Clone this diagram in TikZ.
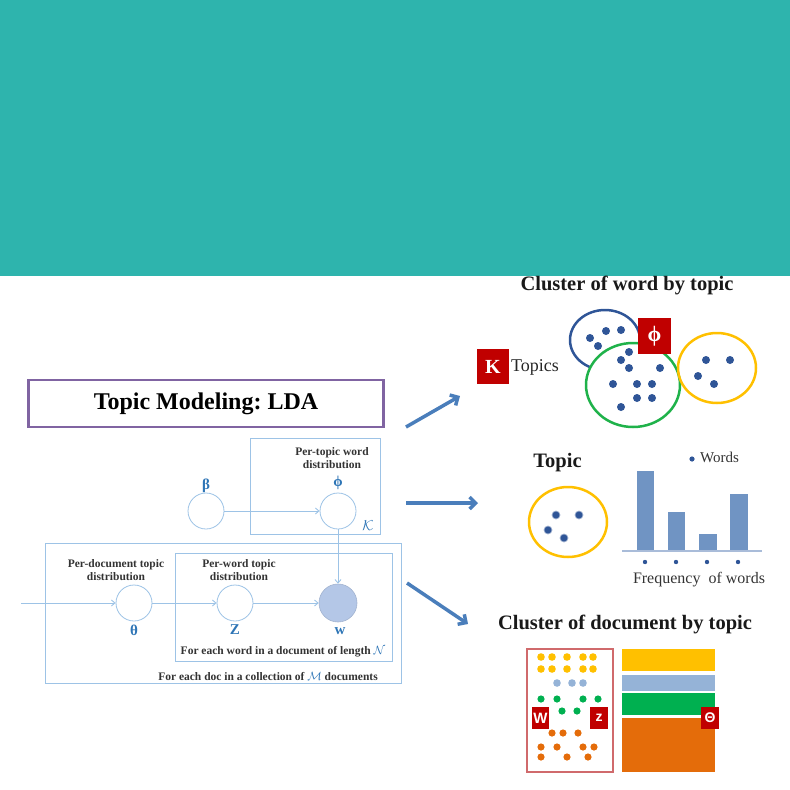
\documentclass[tikz,border=0pt]{standalone}
\usepackage{fontspec}
\setmainfont{Liberation Serif}
\newfontfamily\sansf{Liberation Sans}
\usetikzlibrary{arrows.meta}
\frenchspacing
\definecolor{tealbg}{HTML}{2EB4AD}
\definecolor{purp}{HTML}{8064A2}
\definecolor{plateblue}{HTML}{9DC3E6}
\definecolor{labblue}{HTML}{2E75B6}
\definecolor{txtgray}{HTML}{333333}
\definecolor{bigarrow}{HTML}{4A7EBB}
\definecolor{darkred}{HTML}{C00000}
\definecolor{dotblue}{HTML}{2F5597}
\definecolor{ellblue}{HTML}{2F5597}
\definecolor{ellgreen}{HTML}{1FB24A}
\definecolor{ellyellow}{HTML}{FFC000}
\definecolor{barblue}{HTML}{7094C3}
\definecolor{baseblue}{HTML}{A9BCD9}
\definecolor{wfill}{HTML}{B4C7E7}
\definecolor{docred}{HTML}{D06A6C}
\definecolor{dyellow}{HTML}{FFC000}
\definecolor{dlblue}{HTML}{95B3D7}
\definecolor{dgreen}{HTML}{00B050}
\definecolor{dorange}{HTML}{E46C0A}
\tikzset{
  plate/.style={draw=plateblue, line width=0.8pt, inner sep=0pt},
  varnode/.style={circle, draw=plateblue, line width=0.8pt, minimum size=36pt, inner sep=0pt, fill=white},
  obsnode/.style={circle, draw=wfill!90!black, line width=0.6pt, fill=wfill, minimum size=38pt, inner sep=0pt},
  smallarrow/.style={draw=plateblue, line width=0.9pt, -{Straight Barb[length=3.5pt,width=6pt]}},
  greek/.style={text=labblue, font=\bfseries\fontsize{15}{15}\selectfont, inner sep=0pt},
  smalltxt/.style={text=txtgray, font=\bfseries\fontsize{11.5}{13}\selectfont, align=center, inner sep=0pt},
  bigarr/.style={draw=bigarrow, line width=3.5pt, -{Straight Barb[length=6pt,width=12pt]}},
  headtxt/.style={text=black!90, font=\bfseries\fontsize{20.5}{22}\selectfont, inner sep=0pt},
  redbox/.style={fill=darkred, text=white, inner sep=0pt},
  bdot/.style={fill=dotblue},
}
\begin{document}
\begin{tikzpicture}[x=1pt,y=-1pt]
\useasboundingbox (0,0) rectangle (790,790);
\fill[tealbg] (0,0) rectangle (790,276);

% title
\node[draw=purp, line width=2.5pt, minimum width=355pt, minimum height=47pt, inner sep=0pt,
  font=\bfseries\fontsize{24}{26}\selectfont, text=black] (title) at (206,403.5) {Topic Modeling: LDA};

% plates
\node[plate, minimum width=130pt, minimum height=96pt] (plateK) at (315,486) {};
\node[plate, minimum width=356pt, minimum height=140pt] (plateM) at (223,613) {};
\node[plate, minimum width=217pt, minimum height=108pt] (plateN) at (283.5,607) {};

% variables
\node[varnode] (beta) at (206,511) {};
\node[varnode] (phi) at (338,511) {};
\node[varnode] (theta) at (134,603) {};
\node[varnode] (z) at (235,603) {};
\node[obsnode] (w) at (338,603) {};
\coordinate (in) at (21,603);

\draw[smallarrow] (beta) -- (phi);
\draw[smallarrow] (phi) -- (w);
\draw[smallarrow] (in) -- (theta);
\draw[smallarrow] (theta) -- (z);
\draw[smallarrow] (z) -- (w);

% greek labels
\node[greek] (lbeta) at (206,486) {β};
\node[greek] (lphi) at (338,483) {ϕ};
\node[greek] (ltheta) at (134,630) {θ};
\node[greek] (lz) at (235,630) {Z};
\node[greek] (lw) at (340,631) {w};
\node[greek] (lK) at (368,526) {$\mathcal{K}$};

\node[smalltxt] (tptw) at (332,458) {Per-topic word\\distribution};
\node[smalltxt] (tpdt) at (116,570) {Per-document topic\\distribution};
\node[smalltxt] (tpwt) at (239,570) {Per-word topic\\distribution};
\node[smalltxt] (tN) at (283,652) {For each word in a document of length {\color{labblue}$\mathcal{N}$}};
\node[smalltxt] (tM) at (268,676) {For each doc in a collection of {\color{labblue}$\mathcal{M}$} documents};

% big arrows
\coordinate (a1s) at (406,427); \coordinate (a1e) at (460,396);
\coordinate (a2s) at (406,503); \coordinate (a2e) at (478,503);
\coordinate (a3s) at (407,583); \coordinate (a3e) at (468,624);
\draw[bigarr] (a1s) -- (a1e);
\draw[bigarr] (a2s) -- (a2e);
\draw[bigarr] (a3s) -- (a3e);

% ---- cluster of word by topic
\node[headtxt] (h1) at (627,285) {Cluster of word by topic};
\node[redbox, minimum width=32pt, minimum height=35pt, font=\bfseries\fontsize{20}{20}\selectfont] (Kbox) at (493,366.5) {K};
\node[anchor=west, inner sep=0pt, font=\fontsize{18}{18}\selectfont, text=black!85] (topics) at (511,367) {Topics};

\draw[ellblue, line width=2.5pt] (605,340) ellipse [x radius=35pt, y radius=30pt];
\foreach \p in {(590,338),(598,346),(606,331),(621,330)} \fill[bdot] \p circle (4pt);
\draw[ellgreen, line width=2.5pt, fill=white] (633,385) ellipse [x radius=47pt, y radius=42pt];
\foreach \p in {(629,352),(621,360),(629,368),(660,368),(613,384),(637,384),(652,384),(637,398),(652,398),(621,407)} \fill[bdot] \p circle (4pt);
\draw[ellyellow, line width=2.5pt] (717,368) ellipse [x radius=39pt, y radius=35pt];
\foreach \p in {(706,360),(730,360),(698,376),(714,384)} \fill[bdot] \p circle (4pt);
\node[redbox, minimum width=33pt, minimum height=36pt, font=\bfseries\fontsize{22}{22}\selectfont] (phibox) at (654.5,336) {ϕ};

% ---- topic / frequency
\node[headtxt] (h2) at (557.5,463) {Topic};
\draw[ellyellow, line width=2.5pt] (568,522) ellipse [x radius=39pt, y radius=35pt];
\foreach \p in {(556,515),(579,515),(548,530),(564,538)} \draw[bdot, draw=dotblue!45, line width=0.7pt] \p circle (4pt);
\fill[barblue] (637,471) rectangle (654,551);
\fill[barblue] (668,512) rectangle (685,551);
\fill[barblue] (699,534) rectangle (717,551);
\fill[barblue] (730,494) rectangle (748,551);
\coordinate (bl) at (622,551); \coordinate (br) at (762,551);
\draw[baseblue, line width=1.2pt] (bl) -- (br);
\foreach \x in {645,676,707,738} \fill[dotblue] (\x,562) circle (2.2pt);
\fill[dotblue] (692,459) circle (2.6pt);
\node[anchor=west, inner sep=0pt, font=\fontsize{15}{15}\selectfont, text=black!80] (words) at (700,457) {Words};
\node[inner sep=0pt, font=\fontsize{16}{16}\selectfont, text=black!80] (freq) at (699,580) {Frequency\ \ of words};

% ---- cluster of document by topic
\node[headtxt] (h3) at (625,624) {Cluster of document by topic};
\draw[docred, line width=2.2pt] (527,649) rectangle (613,772);
\foreach \x in {541,552,567,583,593} {\fill[dyellow] (\x,657) circle (3.8pt); \fill[dyellow] (\x,669) circle (3.8pt);}
\foreach \x in {557,572,583} \fill[dlblue] (\x,683) circle (3.8pt);
\foreach \x in {541,557,583,598} \fill[dgreen] (\x,699) circle (3.6pt);
\foreach \x in {562,577} \fill[dgreen] (\x,711) circle (3.6pt);
\foreach \x in {552,563,578} \fill[dorange] (\x,733) circle (3.6pt);
\foreach \x in {541,557,583,594} \fill[dorange] (\x,747) circle (3.6pt);
\foreach \x in {541,567,588} \fill[dorange] (\x,757) circle (3.6pt);
\fill[dyellow] (622,649) rectangle (715,671);
\fill[dlblue] (622,675) rectangle (715,691);
\fill[dgreen] (622,693) rectangle (715,715);
\fill[dorange] (622,718) rectangle (715,772);
\node[redbox, minimum width=17pt, minimum height=22pt, font=\sansf\bfseries\fontsize{15}{15}\selectfont] (Wbox) at (540.5,718) {W};
\node[redbox, minimum width=18pt, minimum height=22pt, font=\sansf\bfseries\fontsize{14}{14}\selectfont] (zbox) at (599,718) {z};
\node[redbox, minimum width=18pt, minimum height=22pt, font=\sansf\bfseries\fontsize{14}{14}\selectfont] (Tbox) at (710,718) {Θ};
\end{tikzpicture}
\end{document}
